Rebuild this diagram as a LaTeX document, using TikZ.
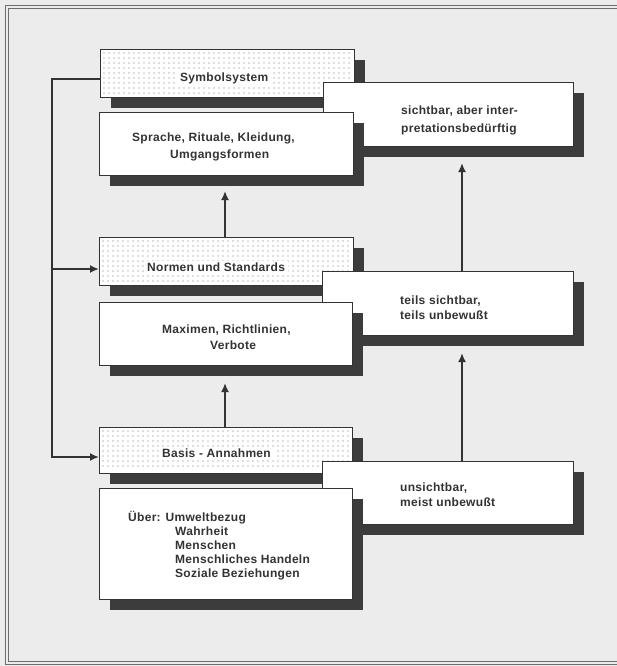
\documentclass[tikz,border=0pt]{standalone}
\usepackage{fontspec}
\setmainfont[LetterSpace=2.5]{Liberation Sans}
\usetikzlibrary{arrows.meta,shadows}
\definecolor{bgc}{HTML}{ECECEC}
\definecolor{ink}{HTML}{333333}
\definecolor{shade}{HTML}{3C3C3C}
\definecolor{dotc}{HTML}{787878}
\definecolor{framec}{HTML}{6E6E6E}
\newcommand{\stipplearea}[4]{%
  \foreach \i in {0,...,#3}{\foreach \j in {0,...,#4}{\fill[dotc] (#1+5*\i,#2+5*\j) circle (0.7);}}}
\begin{document}
\begin{tikzpicture}[x=1pt,y=-1pt,
  box/.style={draw=ink, line width=1.4pt, fill=white, anchor=north west, inner sep=0pt,
    drop shadow={shadow xshift=10pt, shadow yshift=-10pt, fill=shade, opacity=1}},
  lbl/.style={anchor=base west, inner sep=0pt, text=ink, font=\fontsize{12}{14}\selectfont\bfseries},
  dlbl/.style={lbl, fill=white, inner xsep=3pt, inner ysep=1.5pt},
  conn/.style={draw=ink, line width=2pt},
  arr/.style={conn, -{Latex[length=9pt,width=8pt]}},
]
\useasboundingbox (0,0) rectangle (617,666);
\clip (0,0) rectangle (617,666);
\fill[bgc] (0,0) rectangle (617,666);
% frame
\draw[framec, line width=1.4pt] (5.5,5.5) rectangle (640,664.5);
\draw[framec, line width=1pt] (8.7,8.7) rectangle (640,661.3);

% row 1
\node[box, minimum width=254, minimum height=48] (sym) at (100,49) {};
\stipplearea{104}{53}{49}{8}
\node[dlbl] (tsym) at (177,82) {Symbolsystem};
\node[box, minimum width=250, minimum height=64] (sicht) at (323,82) {};
\node[lbl] (tsicht1) at (401,115) {sichtbar, aber inter-};
\node[lbl] (tsicht2) at (401,132) {pretationsbedürftig};
\node[box, minimum width=254, minimum height=63] (spr) at (99,112) {};
\node[lbl] (tspr1) at (132,142) {Sprache, Rituale, Kleidung,};
\node[lbl] (tspr2) at (170,158) {Umgangsformen};

% row 2
\node[box, minimum width=254, minimum height=48] (norm) at (99,237) {};
\stipplearea{103}{241}{49}{8}
\node[dlbl] (tnorm) at (144,271) {Normen und Standards};
\node[box, minimum width=251, minimum height=64] (teils) at (322,271) {};
\node[lbl] (tteils1) at (400,304) {teils sichtbar,};
\node[lbl] (tteils2) at (400,319) {teils unbewußt};
\node[box, minimum width=253, minimum height=63] (maxi) at (99,302) {};
\node[lbl] (tmaxi1) at (162,333) {Maximen, Richtlinien,};
\node[lbl] (tmaxi2) at (210,349) {Verbote};

% row 3
\node[box, minimum width=253, minimum height=46] (basis) at (99,427) {};
\stipplearea{103}{431}{49}{7}
\node[dlbl] (tbasis) at (159,457) {Basis - Annahmen};
\node[box, minimum width=251, minimum height=63] (unsi) at (322,461) {};
\node[lbl] (tunsi1) at (400,491) {unsichtbar,};
\node[lbl] (tunsi2) at (400,506) {meist unbewußt};
\node[box, minimum width=253, minimum height=111] (ueber) at (99,488) {};
\node[lbl] (tue1) at (128,521) {Über: Umweltbezug};
\node[lbl] (tue2) at (175,535) {Wahrheit};
\node[lbl] (tue3) at (175,549) {Menschen};
\node[lbl] (tue4) at (175,563) {Menschliches Handeln};
\node[lbl] (tue5) at (175,577) {Soziale Beziehungen};

% connectors
\coordinate (ltop) at (52,79);
\coordinate (lmid) at (52,269);
\coordinate (lbot) at (52,457);
\draw[arr, line join=miter] (ltop -| sym.west) -- (ltop) -- (lbot) -- (lbot -| basis.west);
\draw[arr] (lmid) -- (lmid -| norm.west);
\coordinate (t1) at (225,191);
\coordinate (t2) at (225,383);
\coordinate (t3) at (462,163);
\coordinate (t4) at (462,353);
\draw[arr] (t1 |- norm.north) -- (t1);
\draw[arr] (t2 |- basis.north) -- (t2);
\draw[arr] (t3 |- teils.north) -- (t3);
\draw[arr] (t4 |- unsi.north) -- (t4);
\end{tikzpicture}
\end{document}
